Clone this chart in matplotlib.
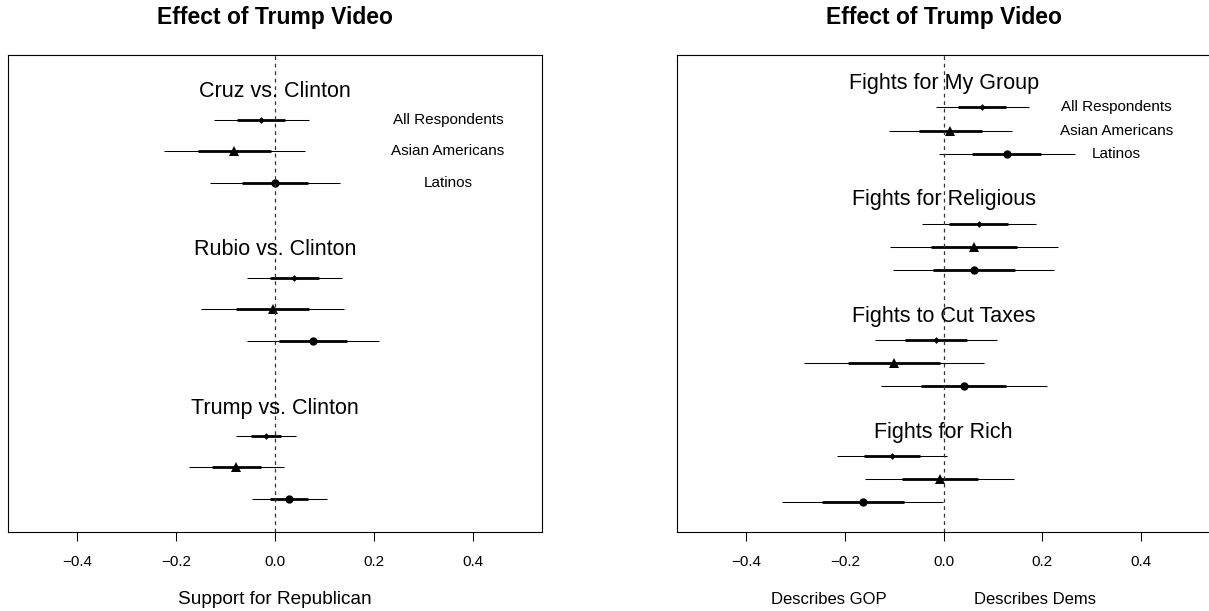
import matplotlib.pyplot as plt
from matplotlib.transforms import blended_transform_factory

plt.rcParams['font.family'] = ['Liberation Sans', 'DejaVu Sans']

# subgroups, one row each inside every outcome block
groups = ["All Respondents", "Asian Americans", "Latinos"]
markers = ['D', '^', 'o']
marker_sizes = [3.4, 6.5, 6.0]

# vote choice outcomes: treatment effect and standard error
ballot_titles = ["Cruz vs. Clinton", "Rubio vs. Clinton", "Trump vs. Clinton"]
ballot_est = [[-0.028, -0.082, 0.000],
              [0.039, -0.005, 0.077],
              [-0.018, -0.078, 0.029]]
ballot_se = [[0.049, 0.073, 0.067],
             [0.049, 0.074, 0.068],
             [0.031, 0.049, 0.0385]]

# party trait outcomes
trait_titles = ["Fights for My Group", "Fights for Religious",
                "Fights to Cut Taxes", "Fights for Rich"]
trait_est = [[0.078, 0.014, 0.128],
             [0.071, 0.062, 0.061],
             [-0.015, -0.101, 0.041],
             [-0.105, -0.008, -0.164]]
trait_se = [[0.048, 0.064, 0.070],
            [0.059, 0.087, 0.083],
            [0.063, 0.093, 0.086],
            [0.057, 0.077, 0.083]]

xticks = [-0.4, -0.2, 0.0, 0.2, 0.4]


def coef_panel(ax, titles, est, se, ylim, title_offset):
    for g, (name, e_row, s_row) in enumerate(zip(titles, est, se)):
        top = -5 * g
        ax.text(0, top + title_offset, name, ha='center', va='center', fontsize=15.5)
        for k, (e, s) in enumerate(zip(e_row, s_row)):
            y = top - k
            # 95% interval thin, +/- 1 se thick
            ax.plot([e - 1.96 * s, e + 1.96 * s], [y, y], color='black', lw=0.75,
                    solid_capstyle='butt')
            ax.plot([e - s, e + s], [y, y], color='black', lw=2.0, solid_capstyle='butt')
            ax.plot(e, y, marker=markers[k], ms=marker_sizes[k], color='black', mew=0)
            if g == 0:
                ax.text(0.35, y, groups[k], ha='center', va='center', fontsize=11)
    ax.axvline(0, color='#333333', lw=0.9, ls=(0, (3, 3)))
    ax.set_xlim(-0.54, 0.54)
    ax.set_ylim(*ylim)
    ax.set_xticks(xticks)
    ax.set_xticklabels([f"{t:.1f}".replace('-', '\u2212') for t in xticks])
    ax.set_yticks([])
    ax.tick_params(axis='x', direction='out', length=6.5, width=0.75, labelsize=11, pad=10.2)
    for sp in ax.spines.values():
        sp.set_linewidth(0.8)
    ax.set_title("Effect of Trump Video", fontweight='bold', fontsize=16.5, pad=22.5)


fig = plt.figure(figsize=(12.09, 6.11), dpi=100)
ax1 = fig.add_axes([0.00662, 0.1293, 0.4417, 0.7807])
ax2 = fig.add_axes([0.5598, 0.1293, 0.4413, 0.7807])

coef_panel(ax1, ballot_titles, ballot_est, ballot_se, (-13.04, 2.04), 0.88)
coef_panel(ax2, trait_titles, trait_est, trait_se, (-18.27, 2.25), 1.02)

lab_y = 11 / 611
fig.text(275 / 1209, lab_y, "Support for Republican", ha='center', va='center', fontsize=13.7)
tr = blended_transform_factory(ax2.transData, fig.transFigure)
ax2.text(-0.232, lab_y, "Describes GOP", transform=tr, ha='center', va='center', fontsize=12)
ax2.text(0.186, lab_y, "Describes Dems", transform=tr, ha='center', va='center', fontsize=12)

fig.savefig("out.png", dpi=100)
